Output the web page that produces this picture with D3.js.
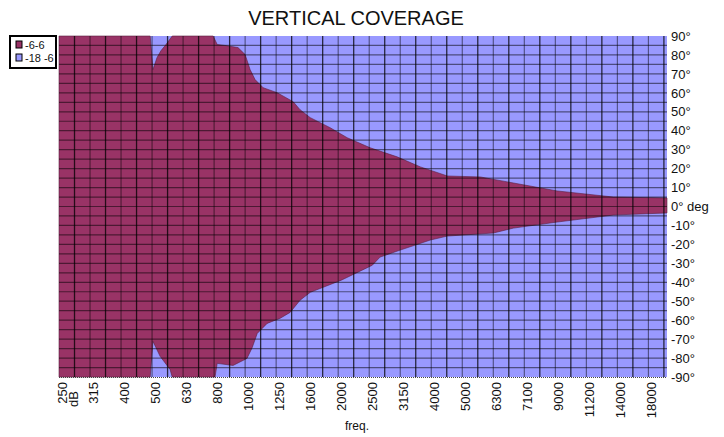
<!DOCTYPE html>
<html>
<head>
<meta charset="utf-8">
<script src="https://cdn.jsdelivr.net/npm/d3@7"></script>
<style>
  body { margin: 0; background: #fff; }
  text { font-family: "Liberation Sans", Arial, sans-serif; }
</style>
</head>
<body>
<svg id="chart" width="724" height="437"></svg>
<script>
// frequency bands along the x axis
const freqLabels = ["250", "315", "400", "500", "630", "800", "1000", "1250", "1600", "2000",
  "2500", "3150", "4000", "5000", "6300", "7100", "9000", "11200", "14000", "18000"];
const angleTicks = [-90, -80, -70, -60, -50, -40, -30, -20, -10, 0, 10, 20, 30, 40, 50, 60, 70, 80, 90];

// -6 dB contour, upper edge (position in band index, angle in degrees)
const upperPos = [0, 2.94, 3.03, 3.16, 3.29, 3.45, 3.65, 4.97, 5.10, 5.35, 5.77, 6.0, 6.16, 6.32, 6.58,
  7.03, 7.55, 7.77, 8.1, 8.74, 9.29, 10.03, 10.9, 11.65, 12.52, 13.58, 14.65, 16.06, 17.87, 19.6];
const upperDeg = [90, 90, 72.3, 78.6, 82.3, 85.5, 90, 90, 85.5, 85, 83.9, 80.2, 72.3, 67, 62.7,
  60.1, 55.3, 51.1, 46.9, 41.6, 36.3, 31, 26.2, 20.9, 16.1, 15.6, 12.4, 8.2, 5.0, 4.5];

// -6 dB contour, lower edge
const lowerPos = [0, 2.94, 3.03, 3.26, 3.58, 3.65, 5.03, 5.10, 5.61, 6.06, 6.23, 6.39, 6.71, 7.13, 7.45,
  7.77, 8.1, 9.1, 10.1, 10.35, 11.0, 11.97, 12.52, 14.0, 14.65, 16.06, 17.87, 19.6];
const lowerDeg = [-90, -90, -71.2, -79.1, -86, -90, -90, -82.8, -83.9, -80.2, -74.4, -67, -61.7, -59, -55.9,
  -49.5, -45.3, -38.9, -31, -26.7, -23, -17.7, -15.6, -14, -11.4, -8.2, -4.5, -3.4];

const legendItems = [{ name: "-6-6", color: "#993366" }, { name: "-18 -6", color: "#9999ff" }];

(function() {
  const svg = d3.select("#chart");

  const left = 59, right = 667, plotTop = 36, bottom = 377;
  const xScale = d3.scaleLinear().domain([0, 19.6]).range([left, right]);
  const yScale = d3.scaleLinear().domain([-90, 90]).range([bottom, plotTop]);

  // -18 -6 band covers the whole plot
  const area = d3.area()
    .x(d => xScale(d))
    .y0(yScale(-90))
    .y1(yScale(90));
  svg.append("path")
    .datum([0, 19.6])
    .attr("d", area)
    .attr("fill", "#9999ff");

  // -6-6 band
  const upper = upperPos.map((p, i) => [p, upperDeg[i]]);
  const lower = lowerPos.map((p, i) => [p, lowerDeg[i]]);
  const outline = upper.concat(lower.slice().reverse());
  const line = d3.line()
    .x(d => xScale(d[0]))
    .y(d => yScale(d[1]));
  svg.append("path")
    .attr("d", line(outline) + "Z")
    .attr("fill", "#993366")
    .attr("stroke", "#5a2040")
    .attr("stroke-width", 0.6);

  // grid
  const grid = svg.append("g");
  grid.selectAll(".h")
    .data(d3.range(-85, 90, 5))
    .enter().append("line")
    .attr("x1", left).attr("x2", right)
    .attr("y1", d => yScale(d)).attr("y2", d => yScale(d))
    .attr("stroke", "#000")
    .attr("stroke-opacity", 0.5)
    .attr("stroke-width", 1.2);

  grid.selectAll(".v")
    .data(d3.range(0.5, 19.6, 0.5))
    .enter().append("line")
    .attr("x1", d => xScale(d)).attr("x2", d => xScale(d))
    .attr("y1", plotTop).attr("y2", bottom)
    .attr("stroke", "#000")
    .attr("stroke-opacity", d => d % 1 === 0 ? 0.5 : 0.75)
    .attr("stroke-width", d => d % 1 === 0 ? 1.1 : 1.3);

  // dotted base line
  svg.append("line")
    .attr("x1", left).attr("x2", right)
    .attr("y1", bottom + 0.5).attr("y2", bottom + 0.5)
    .attr("stroke", "#444")
    .attr("stroke-dasharray", "1,1");

  // y axis on the right
  const yAxis = svg.append("g")
    .attr("transform", `translate(${right},0)`)
    .call(d3.axisRight(yScale)
      .tickValues(angleTicks)
      .tickSize(0)
      .tickPadding(4)
      .tickFormat(d => d === 0 ? "0° deg" : d + "°"));
  yAxis.select(".domain").remove();
  yAxis.selectAll("text")
    .attr("font-size", 13)
    .attr("font-family", "Liberation Sans, Arial, sans-serif")
    .attr("fill", "#111");

  // x labels, rotated
  svg.append("g").selectAll("text")
    .data(freqLabels)
    .enter().append("text")
    .attr("transform", (d, i) => `translate(${xScale(i) + 3},${bottom + 5}) rotate(-90)`)
    .attr("text-anchor", "end")
    .attr("dy", "0.35em")
    .attr("font-size", 13)
    .attr("fill", "#111")
    .text(d => d);

  svg.append("text")
    .attr("transform", `translate(73,${bottom + 14}) rotate(-90)`)
    .attr("text-anchor", "end")
    .attr("dy", "0.35em")
    .attr("font-size", 13)
    .attr("fill", "#111")
    .text("dB");

  svg.append("text")
    .attr("x", 357)
    .attr("y", 430)
    .attr("text-anchor", "middle")
    .attr("font-size", 12)
    .attr("fill", "#111")
    .text("freq.");

  // title
  svg.append("text")
    .attr("x", 356)
    .attr("y", 25)
    .attr("text-anchor", "middle")
    .attr("font-size", 20)
    .attr("fill", "#111")
    .text("VERTICAL COVERAGE");

  // legend
  const legend = svg.append("g");
  legend.append("rect")
    .attr("x", 10).attr("y", 36)
    .attr("width", 46).attr("height", 32)
    .attr("fill", "#fff")
    .attr("stroke", "#000")
    .attr("stroke-width", 2);
  const item = legend.selectAll(".item")
    .data(legendItems)
    .enter().append("g")
    .attr("transform", (d, i) => `translate(16,${41 + i * 13})`);
  item.append("rect")
    .attr("width", 6).attr("height", 7)
    .attr("fill", d => d.color)
    .attr("stroke", "#000")
    .attr("stroke-width", 1);
  item.append("text")
    .attr("x", 9)
    .attr("y", 4)
    .attr("dy", "0.35em")
    .attr("font-size", 11)
    .attr("fill", "#111")
    .text(d => d.name);
})()
</script>
</body>
</html>
